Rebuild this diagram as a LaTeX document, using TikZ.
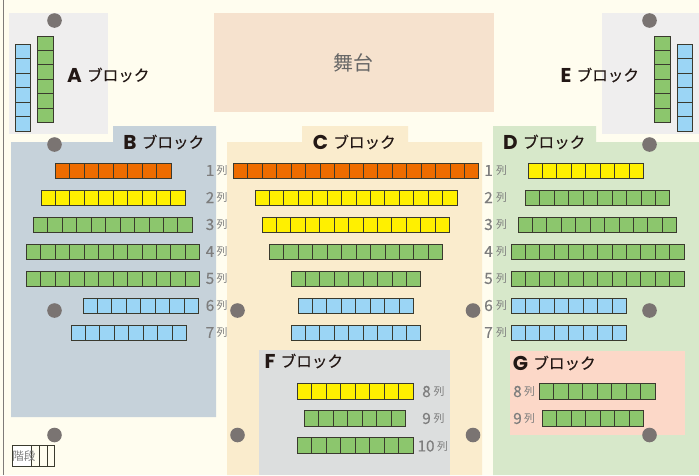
\documentclass[tikz,border=0pt]{standalone}
\usepackage{fontspec}
\usetikzlibrary{positioning}
\setmainfont{Noto Sans CJK JP}
\newfontfamily\latinbold{Poppins}[BoldFont={* Bold}]
\newfontfamily\midweight{Noto Sans CJK JP}[FakeBold=0.35]
\newfontfamily\numweight{Noto Sans CJK JP}[FakeBold=0.25]
\definecolor{paper}{HTML}{FFFDEF}
\definecolor{rimgray}{HTML}{7F7B78}
\definecolor{blockAE}{HTML}{EFEEEE}
\definecolor{blockB}{HTML}{C6D2DA}
\definecolor{blockC}{HTML}{FAECCD}
\definecolor{blockD}{HTML}{D7E8CA}
\definecolor{blockF}{HTML}{DCDEDE}
\definecolor{blockG}{HTML}{FCD8C8}
\definecolor{stagefill}{HTML}{F6E2CE}
\definecolor{seatO}{HTML}{EE6C00}
\definecolor{seatY}{HTML}{FFF000}
\definecolor{seatG}{HTML}{8CC66D}
\definecolor{seatB}{HTML}{9BD5F5}
\definecolor{seatline}{HTML}{3A3A2E}
\definecolor{dotgray}{HTML}{7A7472}
\definecolor{numgray}{HTML}{7D7D7D}
\definecolor{inkblack}{HTML}{231815}
\tikzset{
  seat/.style={draw=seatline,line width=0.75pt},
  pillar/.style={fill=dotgray,draw=none},
  blockname/.style={inner sep=0pt,text=inkblack,font=\fontsize{11.7}{12}\midweight},
  blockletter/.style={inner sep=0pt,text=inkblack,font=\fontsize{15}{15}\latinbold\bfseries},
  rownum/.style={inner sep=0pt,text=numgray,font=\fontsize{11.5}{12}\numweight},
  rowword/.style={inner sep=0pt,text=numgray,font=\fontsize{8.2}{9}\selectfont},
}
\begin{document}
\begin{tikzpicture}[x=0.75pt,y=-0.75pt]
\useasboundingbox (0,0) rectangle (699,475);
\fill [paper] (0,0) rectangle (699,475);
\draw [rimgray,line width=0.75pt] (3.5,0) -- (3.5,475);
% blocks
\fill [stagefill] (214,13) rectangle (494,112);
\fill [blockAE] (9,13) rectangle (108,134);
\fill [blockAE] (602,13) rectangle (699,134);
\fill [blockB] (11,142) -- (113,142) -- (113,126) -- (216,126) -- (216,417) -- (11,417) -- cycle;
\fill [blockC] (227,142) -- (302,142) -- (302,126) -- (408,126) -- (408,142) -- (482,142) -- (482,475) -- (227,475) -- cycle;
\fill [blockD] (493,126) -- (596,126) -- (596,142) -- (699,142) -- (699,475) -- (493,475) -- cycle;
\fill [blockF] (259,350) rectangle (450,475);
\fill [blockG] (510,351) rectangle (685,435);
% seats in rows
\foreach \x/\y/\n/\c in {
  55.5/163/8/seatO, 41/190/10/seatY, 33.5/217/11/seatG, 26.5/244/12/seatG, 26.5/271/12/seatG, 83/298/8/seatB, 71/325/8/seatB,
  233.5/163/17/seatO, 255/190/14/seatY, 262/217/13/seatY, 269.5/244/12/seatG, 291/271/9/seatG, 298/298/8/seatB, 291/325/9/seatB,
  528/163/8/seatY, 525.5/190/10/seatG, 518/217/11/seatG, 511/244/12/seatG, 511/271/12/seatG, 511/298/8/seatB, 511/325/8/seatB,
  297.5/383.5/8/seatY, 304.5/410.5/7/seatG, 297.5/437.5/8/seatG,
  539.5/383.5/8/seatG, 542.5/410.5/7/seatG} {
  \foreach \i in {1,...,\n}
    \draw [seat,fill=\c] ({\x+(\i-1)*14.44},\y) rectangle ++(14.44,15.5);
}
% seats in columns
\foreach \x/\y/\c in {15/44.5/seatB, 37.5/36/seatG, 654.5/36/seatG, 677/44.5/seatB} {
  \foreach \i in {1,...,6}
    \draw [seat,fill=\c] (\x,{\y+(\i-1)*14.44}) rectangle ++(15.5,14.44);
}
% pillars
\foreach \x/\y in {54.5/20.5, 54.5/144.5, 54.5/310.5, 54.5/435, 237.5/310.5, 473/310.5, 237.5/435, 473/435, 649.5/20.5, 649.5/144.5, 649.5/310.5, 649.5/435}
  \fill [pillar] (\x,\y) circle (7.3);
% stairs
\fill [white] (12.5,445) rectangle (31,466.5);
\draw [seatline,line width=0.6pt] (12.5,445) rectangle (54.5,466.5);
\foreach \x in {31,39,47}
  \draw [seatline,line width=0.6pt] (\x,445) -- (\x,466.5);
\node [inner sep=0pt,text=numgray,font=\fontsize{8.7}{9}\selectfont] (stairs) at (24,456) {階段};
\node [inner sep=0pt,text=black!60,font=\fontsize{15}{15}\selectfont] (stage) at (353,63) {舞台};
% block names
\foreach \nm/\x/\y in {A/74.5/75, B/130/142, C/320.5/142, D/510.5/142, E/566/75, F/270/361, G/520.5/363} {
  \node [blockletter] (let\nm) at (\x,\y) {\nm};
  \node [blockname,right=3.5pt of let\nm.east] (nam\nm) {ブロック};
}
% row labels
\foreach \i/\y in {1/170.5, 2/197.5, 3/224.5, 4/251.5, 5/278.5, 6/305.5, 7/332.5} {
  \node [rownum] (numB\i) at (210,\y) {\i};
  \node [rowword] (wordB\i) at (222,\y) {列};
  \node [rownum] (numD\i) at (488.5,\y) {\i};
  \node [rowword] (wordD\i) at (501.5,\y) {列};
}
\node [rownum] (numFa) at (426.5,391.5) {8};
\node [rowword] (wordFa) at (439,391.5) {列};
\node [rownum] (numFb) at (426.5,418.5) {9};
\node [rowword] (wordFb) at (439,418.5) {列};
\node [rownum] (numFc) at (426,446) {10};
\node [rowword] (wordFc) at (442.5,446) {列};
\node [rownum] (numGa) at (517.5,391.5) {8};
\node [rowword] (wordGa) at (529.5,391.5) {列};
\node [rownum] (numGb) at (517.5,418.5) {9};
\node [rowword] (wordGb) at (529.5,418.5) {列};
\end{tikzpicture}
\end{document}
